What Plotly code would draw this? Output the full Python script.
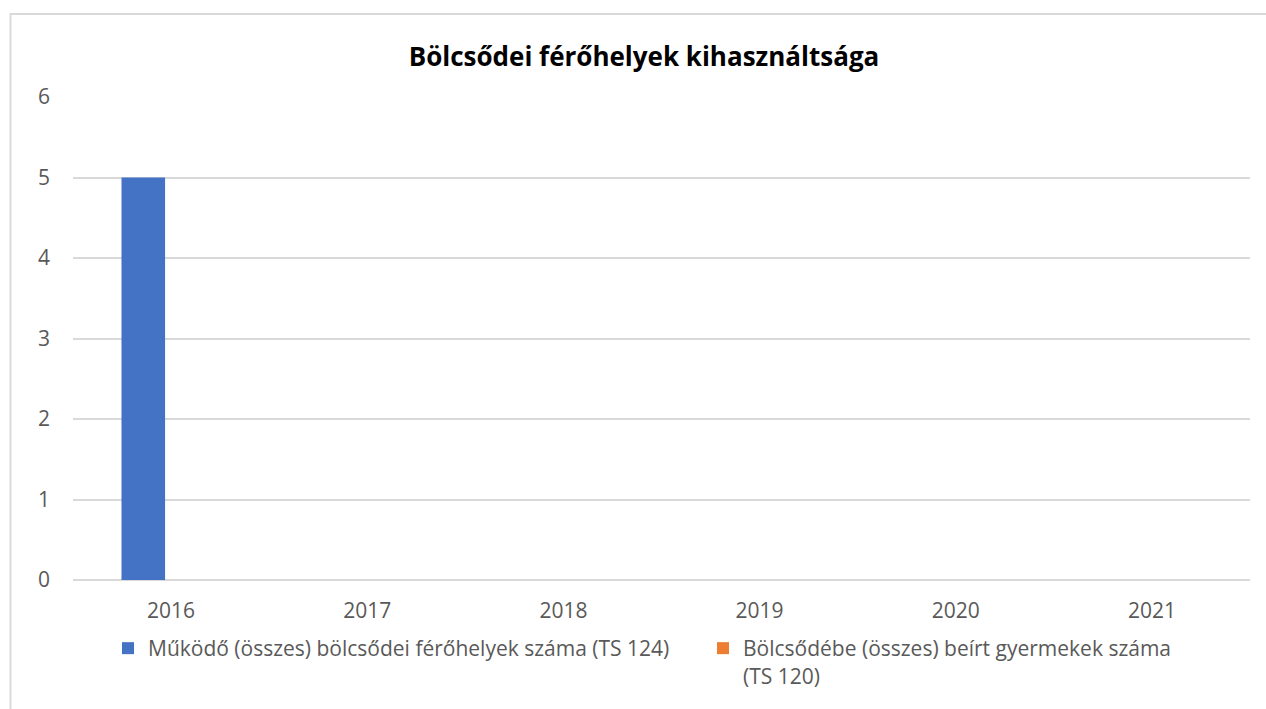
import plotly.graph_objects as go

years = ["2016", "2017", "2018", "2019", "2020", "2021"]
ferohelyek = [5, 0, 0, 0, 0, 0]
beirt = [0, 0, 0, 0, 0, 0]
name1 = "Működő (összes) bölcsődei férőhelyek száma (TS 124)"
name2 = "Bölcsődébe (összes) beírt gyermekek száma<br>(TS 120)"
title = "Bölcsődei férőhelyek kihasználtsága"

W, H = 1266, 709
L, R, T, B = 73, 16, 97, 129
pw, ph = W - L - R, H - T - B

def px_x(p):
    return (p - L) / pw

def px_y(p):
    return (H - B - p) / ph

FONT = "Open Sans"
FS = 21

fig = go.Figure()
fig.add_trace(go.Bar(x=years, y=ferohelyek, name=name1, legend="legend",
                     marker=dict(color="#4472C4", line=dict(width=0))))
fig.add_trace(go.Bar(x=years, y=beirt, name=name2, legend="legend2",
                     marker=dict(color="#ED7D31", line=dict(width=0))))

leg_common = dict(orientation="h", xanchor="left", yanchor="top", valign="top",
                  font=dict(family=FONT, size=FS, color="#595959"),
                  bgcolor="rgba(0,0,0,0)", borderwidth=0)

fig.update_layout(
    width=W, height=H,
    margin=dict(l=L, r=R, t=T, b=B, autoexpand=False),
    paper_bgcolor="white", plot_bgcolor="white",
    barmode="group", bargap=0.433, bargroupgap=0.216,
    font=dict(family=FONT, color="#595959", size=FS),
    title=dict(text="<b>" + title + "</b>", x=px_x(644), xref="paper", xanchor="center",
               y=1 - 57 / H, yref="container", yanchor="middle",
               font=dict(family=FONT, size=26, color="#000000")),
    xaxis=dict(showgrid=False, showline=False, ticks="", ticklabelstandoff=16,
               tickfont=dict(size=FS, color="#595959")),
    yaxis=dict(range=[0, 6], dtick=1, showgrid=True, gridcolor="#d9d9d9", gridwidth=2,
               zeroline=True, zerolinecolor="#d9d9d9", zerolinewidth=2, showline=False,
               ticks="", ticklabelstandoff=22, tickfont=dict(size=FS, color="#595959")),
    legend=dict(x=px_x(108), y=px_y(628), **leg_common),
    legend2=dict(x=px_x(703), y=px_y(628), **leg_common),
    showlegend=True,
)

fig.add_shape(type="line", xref="paper", yref="paper", x0=px_x(10), x1=px_x(W + 5),
              y0=px_y(14), y1=px_y(14), line=dict(color="#d9d9d9", width=2))
fig.add_shape(type="line", xref="paper", yref="paper", x0=px_x(10.5), x1=px_x(10.5),
              y0=px_y(13), y1=px_y(H + 5), line=dict(color="#d9d9d9", width=2))

fig.write_html("out.html", config={"displayModeBar": False},
               post_script="document.body.style.margin='0';")
